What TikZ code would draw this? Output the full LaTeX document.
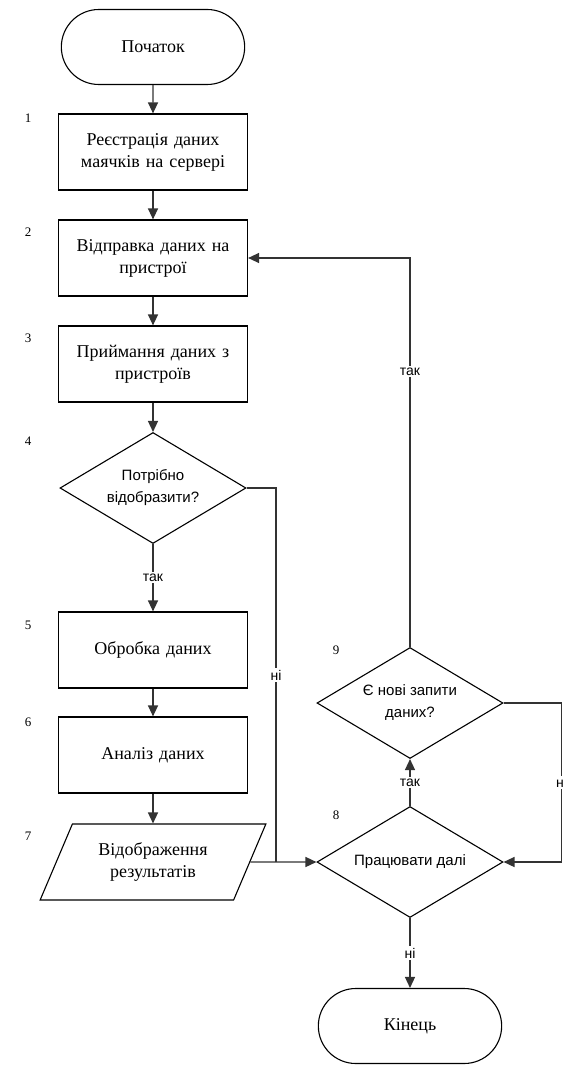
\documentclass[tikz,border=0pt]{standalone}
\usepackage{fontspec}
\setmainfont{Liberation Serif}
\newfontfamily\labelfont{Liberation Sans}
\usetikzlibrary{shapes.geometric,shapes.misc,arrows.meta}

\begin{document}
\begin{tikzpicture}[x=1pt, y=-1pt,
    process/.style={draw, line width=1.2pt, minimum width=189pt, minimum height=76pt, text width=172pt, align=center, font=\fontsize{18}{22}\selectfont},
    term/.style={draw, rounded rectangle, line width=1.1pt, minimum width=190pt, minimum height=75pt, font=\fontsize{18}{22}\selectfont},
    decision/.style={draw, diamond, line width=1.1pt, aspect=1.68, inner sep=0pt, minimum width=186pt, minimum height=111pt, align=center, font=\labelfont\fontsize{15}{22}\selectfont},
    io/.style={draw, trapezium, trapezium left angle=63, trapezium right angle=117, trapezium stretches=true, line width=1.1pt, minimum width=226pt, minimum height=76pt, align=center, font=\fontsize{18}{22}\selectfont},
    num/.style={font=\fontsize{13}{15}\selectfont},
    flow/.style={-{Triangle[length=11pt,width=10pt]}, line width=1.4pt, black!80},
    link/.style={line width=1.4pt, black!80},
    lbl/.style={fill=white, inner sep=1.5pt, text=black, font=\labelfont\fontsize{14}{16}\selectfont}
  ]
    \useasboundingbox (0,0) rectangle (562,1067);

    \node[term] (start) at (153,47) {Початок};
    \node[process] (reg) at (153,152) {Реєстрація даних\\маячків на сервері};
    \node[process] (send) at (153,258) {Відправка даних на\\пристрої};
    \node[process] (recv) at (153,364) {Приймання даних з\\пристроїв};
    \node[decision] (show) at (153,488) {Потрібно\\відобразити?};
    \node[process] (proc) at (153,650) {Обробка даних};
    \node[process] (anal) at (153,755) {Аналіз даних};
    \node[io] (disp) at (153,862) {Відображення\\результатів};
    \node[decision] (cont) at (410,862) {Працювати далі};
    \node[decision] (newq) at (410,703) {Є нові запити\\даних?};
    \node[term] (stop) at (410,1026) {Кінець};

    \node[num] (n1) at (28,118) {1};
    \node[num] (n2) at (28,232) {2};
    \node[num] (n3) at (28,338) {3};
    \node[num] (n4) at (28,441) {4};
    \node[num] (n5) at (28,625) {5};
    \node[num] (n6) at (28,722) {6};
    \node[num] (n7) at (28,836) {7};
    \node[num] (n8) at (336,815) {8};
    \node[num] (n9) at (336,650) {9};

    \coordinate (join) at (276,862);

    \draw[flow] (start) -- (reg);
    \draw[flow] (reg) -- (send);
    \draw[flow] (send) -- (recv);
    \draw[flow] (recv) -- (show);
    \draw[flow] (show) -- node[lbl] {так} (proc);
    \draw[flow] (proc) -- (anal);
    \draw[flow] (anal) -- (disp);

    \draw[link] (show.east) -| node[lbl, pos=0.75] {ні} (join);
    \draw[flow] (disp.east) -- (join) -- (cont.west);

    \draw[flow] (cont.north) -- node[lbl] {так} (newq.south);
    \draw[flow] (newq.east) -- ++(58,0) |- node[lbl, pos=0.25] {ні} (cont.east);
    \draw[flow] (newq.north) |- node[lbl, pos=0.354] {так} (send.east);
    \draw[flow] (cont.south) -- node[lbl] {ні} (stop.north);
  \end{tikzpicture}
\end{document}
